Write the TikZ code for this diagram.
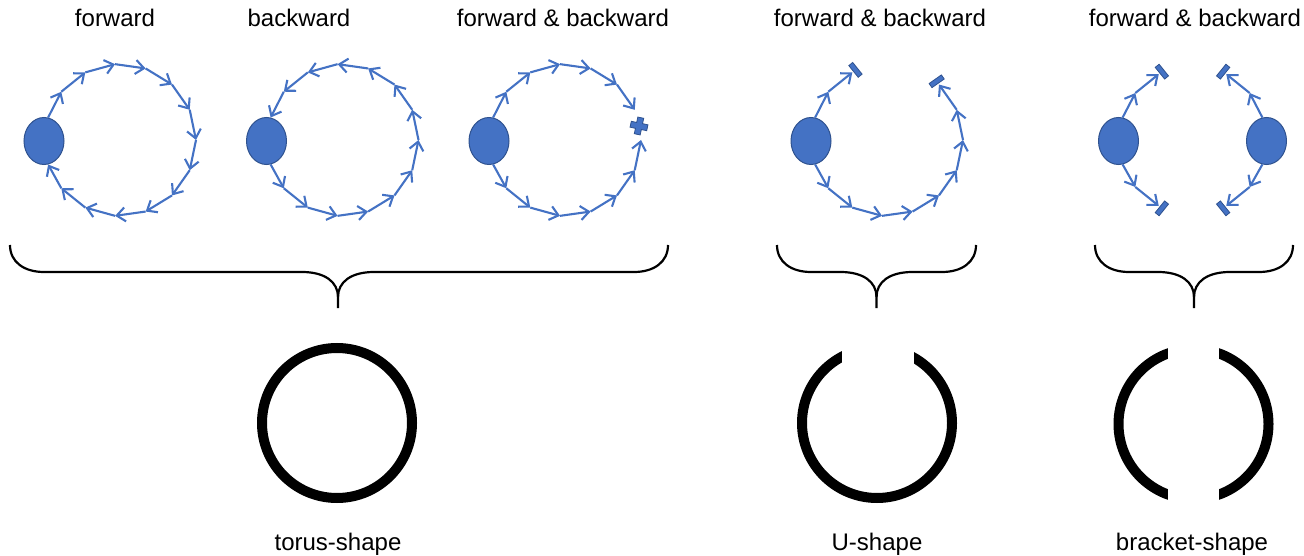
\documentclass[tikz,border=0pt]{standalone}
\usepackage{fontspec}
\setmainfont{Liberation Sans}
\usetikzlibrary{arrows.meta,calc,shapes.geometric}
\definecolor{ob}{HTML}{4472C4}
\definecolor{obd}{HTML}{2F528F}
\newcommand\mkring[6]{% name, cx, cy, radius, start angle, step
  \foreach \k in {0,...,14}{\coordinate (#1\k) at ($(#2,#3)+({#5+#6*\k}:#4)$);}}
\newcommand\bracepath[3]{%
  \draw[bracestyle] (#1,-245) .. controls (#1,-262) and (#1+14,-272) .. (#1+34,-272)
     -- (#3-36,-272) .. controls (#3-13,-272) and (#3,-282) .. (#3,-297) -- (#3,-308);
  \draw[bracestyle] (#2,-245) .. controls (#2,-262) and (#2-14,-272) .. (#2-34,-272)
     -- (#3+36,-272) .. controls (#3+13,-272) and (#3,-282) .. (#3,-297);}
\begin{document}
\begin{tikzpicture}[x=1pt,y=1pt,
  arr/.style={draw=ob, line width=2.1pt, -{Straight Barb[length=8.5pt,width=14pt]}},
  blob/.style={ellipse, fill=ob, draw=obd, line width=1pt, minimum width=40pt, minimum height=47pt, inner sep=0pt},
  stopbar/.style={rectangle, fill=ob, draw=obd, line width=0.8pt, minimum width=15pt, minimum height=5pt, inner sep=0pt},
  lbl/.style={font=\fontsize{24}{28}\selectfont, inner sep=0pt, anchor=base},
  bracestyle/.style={draw=black, line width=2.2pt},
  shapering/.style={draw=black, line width=10pt},
]
\useasboundingbox (0,0) rectangle (1304,-556);

% ---------- rings of coordinates ----------
\mkring{a}{120}{-140}{76}{164}{-23.4286}
\mkring{b}{342.5}{-140}{76}{164}{-23.4286}
\mkring{c}{565}{-140}{76}{164}{-23.4286}
\mkring{u}{887}{-140}{76}{164}{-23.4286}
\mkring{d}{1192.5}{-140}{74}{164}{-23.4286}
\mkring{e}{1192.5}{-140}{74}{16}{23.4286}

% ---------- ellipses ----------
\node[blob] (aE) at (44,-141) {};
\node[blob] (bE) at (266.5,-141) {};
\node[blob] (cE) at (489,-141) {};
\node[blob] (uE) at (811,-141) {};
\node[blob] (dE) at (1118.5,-141) {};
\node[blob] (eE) at (1266.5,-141) {};

% ---------- forward ----------
\draw[arr] (aE.80) -- (a1);
\foreach \k in {1,...,12}{\pgfmathtruncatemacro\n{\k+1}\draw[arr] (a\k) -- (a\n);}
\draw[arr] (a13) -- (aE.-80);

% ---------- backward ----------
\draw[arr] (bE.-80) -- (b13);
\foreach \k in {13,...,2}{\pgfmathtruncatemacro\n{\k-1}\draw[arr] (b\k) -- (b\n);}
\draw[arr] (b1) -- (bE.80);

% ---------- forward & backward (torus) ----------
\draw[arr] (cE.80) -- (c1);
\foreach \k in {1,...,5}{\pgfmathtruncatemacro\n{\k+1}\draw[arr] (c\k) -- (c\n);}
\draw[arr] (cE.-80) -- (c13);
\foreach \k in {13,...,8}{\pgfmathtruncatemacro\n{\k-1}\draw[arr] (c\k) -- (c\n);}
\coordinate (cX) at (639,-126);
\filldraw[fill=ob, draw=obd, line width=0.8pt, shift={(cX)}, rotate=-12]
  (-3,8.5) -- (3,8.5) -- (3,3) -- (8.5,3) -- (8.5,-3) -- (3,-3) -- (3,-8.5)
  -- (-3,-8.5) -- (-3,-3) -- (-8.5,-3) -- (-8.5,3) -- (-3,3) -- cycle;

% ---------- U ----------
\draw[arr] (uE.80) -- (u1);
\draw[arr] (u1) -- (u2);
\node[stopbar, rotate=128.86] (uB1) at ($(u2)!-4pt!(u1)$) {};
\draw[arr] (uE.-80) -- (u13);
\foreach \k in {13,...,6}{\pgfmathtruncatemacro\n{\k-1}\draw[arr] (u\k) -- (u\n);}
\node[stopbar, rotate=35.14] (uB2) at ($(u5)!-4pt!(u6)$) {};

% ---------- bracket ----------
\draw[arr] (dE.80) -- (d1);
\draw[arr] (d1) -- (d2);
\node[stopbar, rotate=128.86] (dB1) at ($(d2)!-4pt!(d1)$) {};
\draw[arr] (dE.-80) -- (d13);
\draw[arr] (d13) -- (d12);
\node[stopbar, rotate=51.14] (dB2) at ($(d12)!-4pt!(d13)$) {};
\draw[arr] (eE.100) -- (e1);
\draw[arr] (e1) -- (e2);
\node[stopbar, rotate=51.14] (eB1) at ($(e2)!-4pt!(e1)$) {};
\draw[arr] (eE.-100) -- (e13);
\draw[arr] (e13) -- (e12);
\node[stopbar, rotate=-51.14] (eB2) at ($(e12)!-4pt!(e13)$) {};

% ---------- braces ----------
\bracepath{10}{668}{338}
\bracepath{777}{976}{876.5}
\bracepath{1095}{1293}{1194}

% ---------- black shapes ----------
\draw[shapering] (337,-423) circle (75);
\draw[shapering] (877,-423) circle (75);
\fill[white] (842,-330) rectangle (914,-380);
\draw[shapering] (1193.5,-424) circle (75);
\fill[white] (1168,-330) rectangle (1219,-520);

% ---------- labels ----------
\node[lbl] (l1) at (115,-27) {forward};
\node[lbl] (l2) at (299,-27) {backward};
\node[lbl] (l3) at (563,-27) {forward \& backward};
\node[lbl] (l4) at (880,-27) {forward \& backward};
\node[lbl] (l5) at (1195,-27) {forward \& backward};
\node[lbl] (l6) at (338,-550) {torus-shape};
\node[lbl] (l7) at (877,-550) {U-shape};
\node[lbl] (l8) at (1192,-550) {bracket-shape};
\end{tikzpicture}
\end{document}
